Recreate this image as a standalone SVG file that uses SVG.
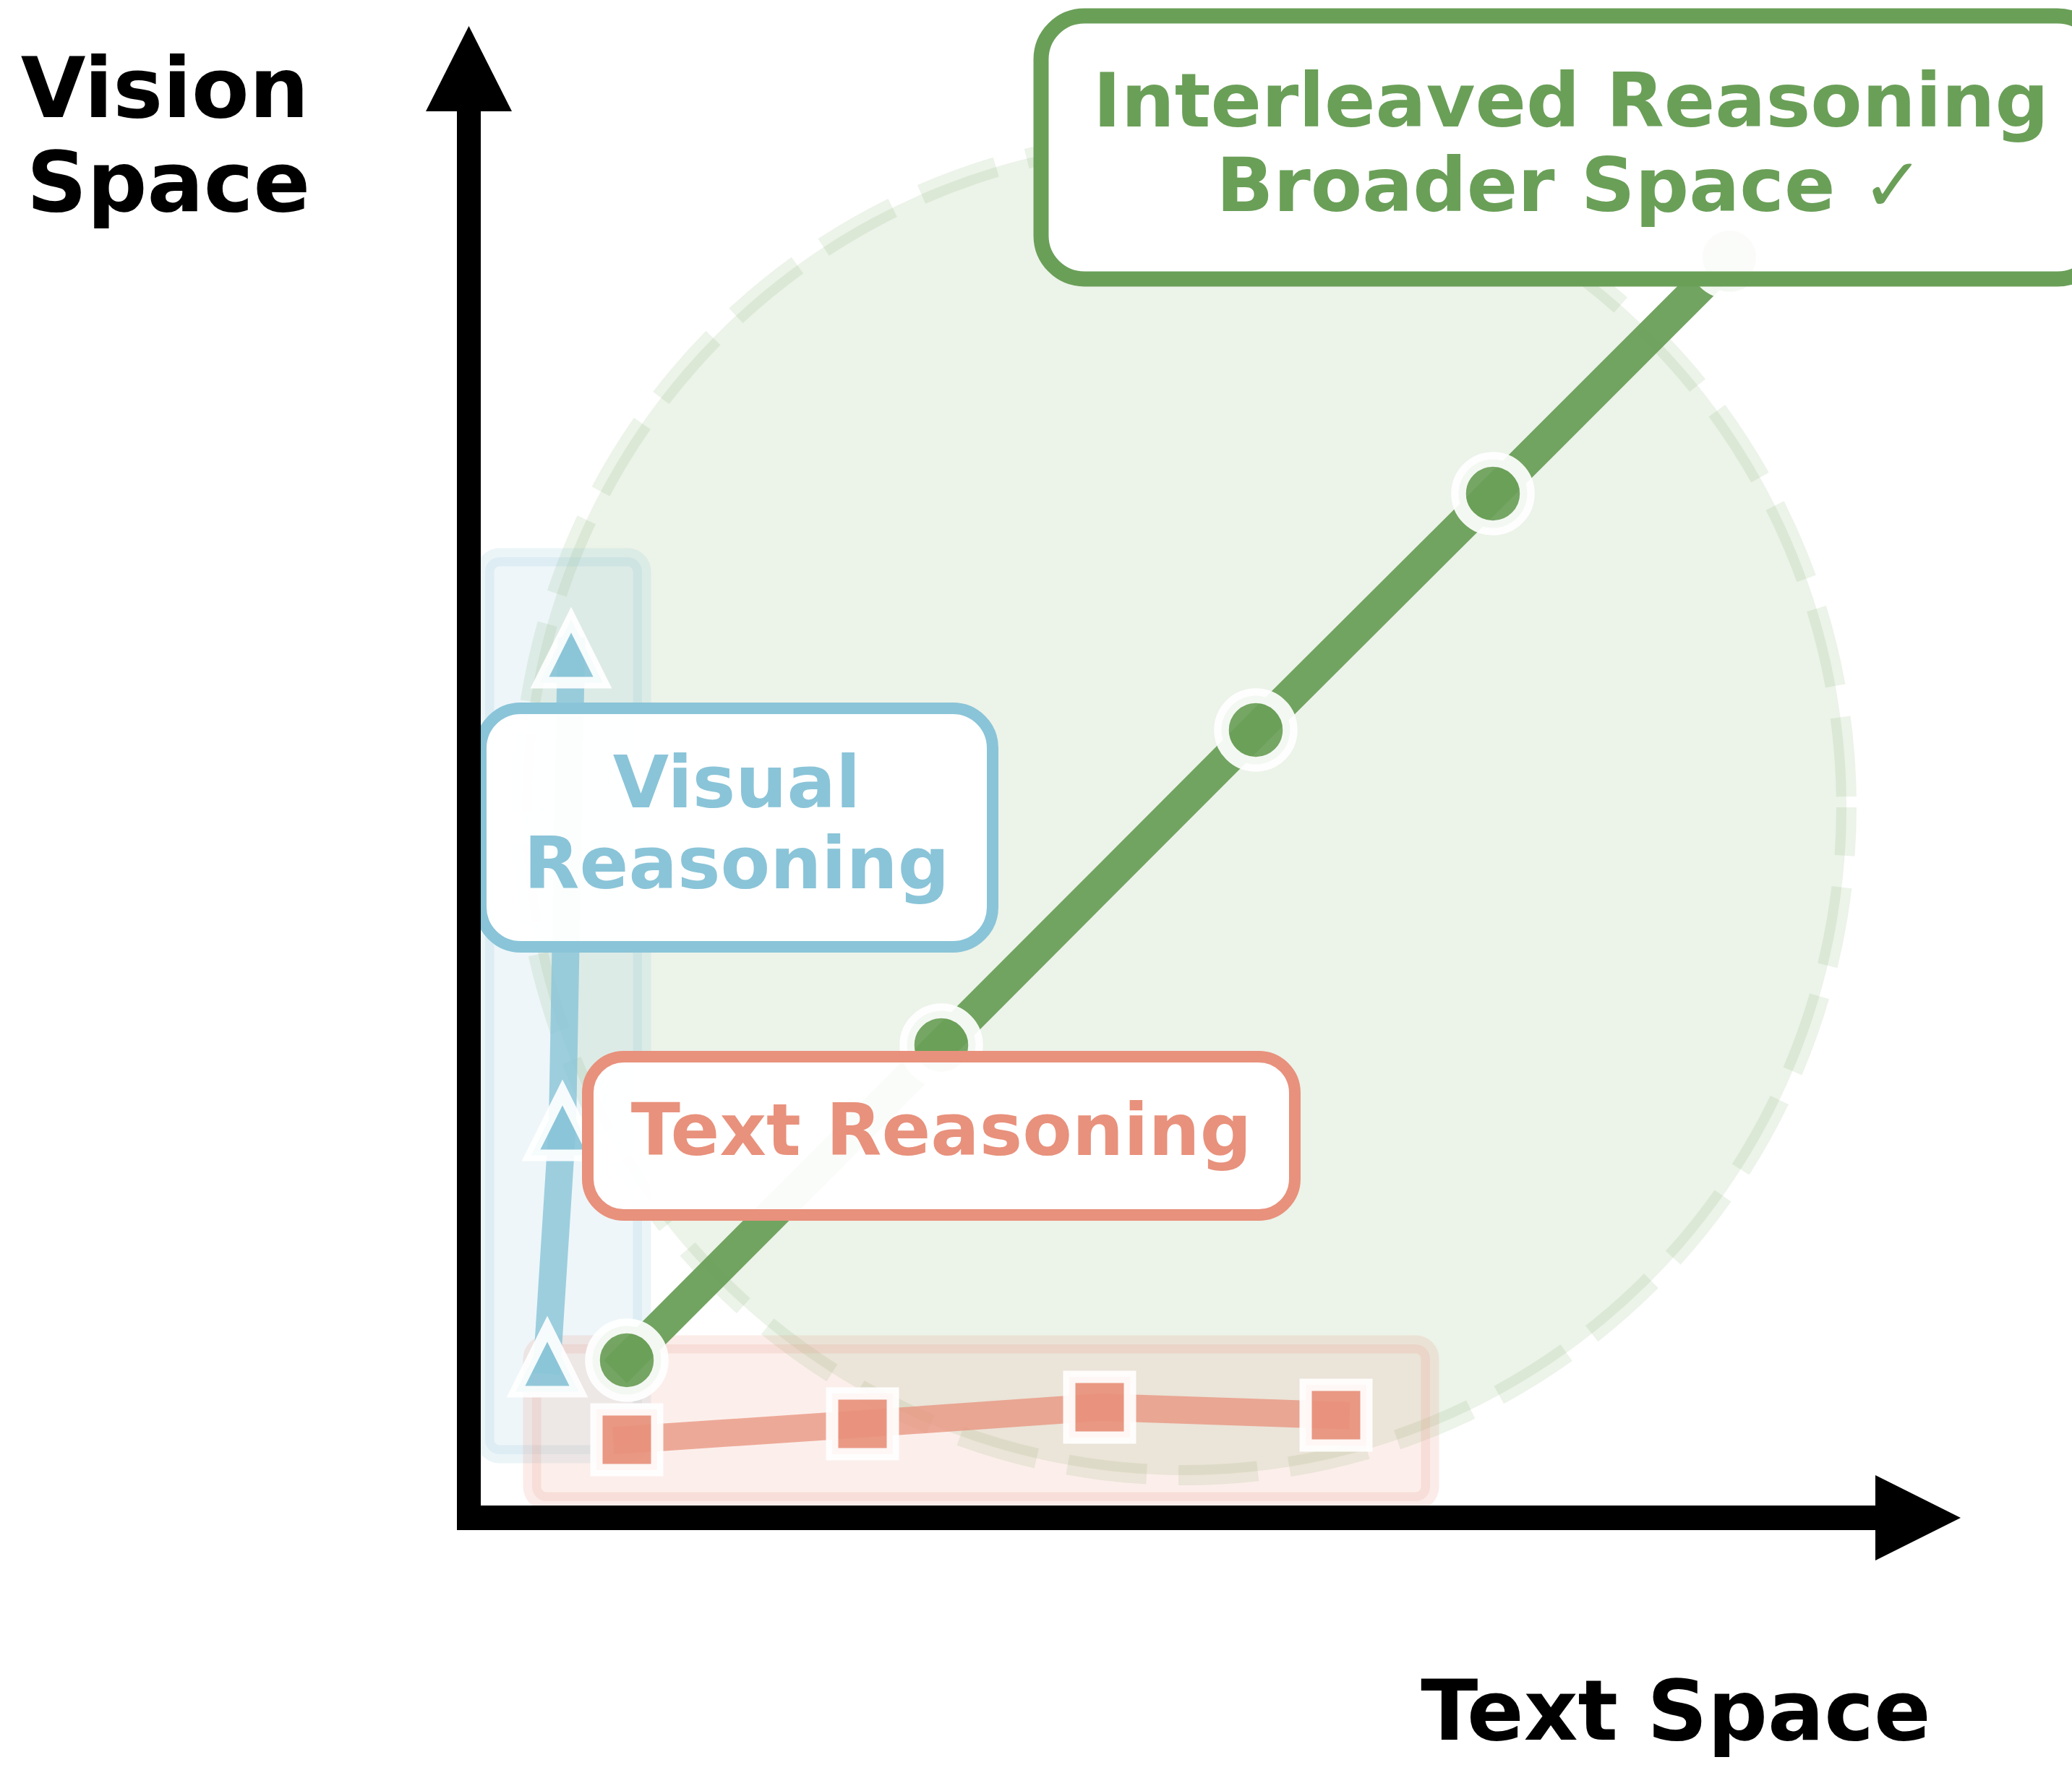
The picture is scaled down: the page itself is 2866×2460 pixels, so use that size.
<svg xmlns="http://www.w3.org/2000/svg" width="2866" height="2460" viewBox="0 0 2866 2460">
<style>
text { font-family: "DejaVu Sans", "Liberation Sans", sans-serif; font-weight: bold; }
.axis-label { font-size: 116px; fill: #000000; }
.t-green { font-size: 104px; fill: #6A9F58; }
.t-blue { font-size: 100px; fill: #8AC4D8; }
.t-red { font-size: 100px; fill: #E8917C; }
.box { fill: #ffffff; fill-opacity: 0.97; }
.mk-green { fill: #6A9F58; stroke: #ffffff; stroke-width: 20.5; fill-opacity: 0.92; stroke-opacity: 0.92; }
.mk-blue { fill: #8AC4D8; stroke: #ffffff; stroke-width: 16; stroke-linejoin: miter; stroke-miterlimit: 10; fill-opacity: 0.92; stroke-opacity: 0.92; }
.mk-red { fill: #E8917C; stroke: #ffffff; stroke-width: 17; stroke-linejoin: miter; fill-opacity: 0.92; stroke-opacity: 0.92; }
.line { fill: none; stroke-linecap: square; stroke-linejoin: round; }
</style>
<defs>
<polygon id="tri" points="0,-43.5 -43.5,43.5 43.5,43.5"/>
<rect id="sq" x="-42" y="-42" width="84" height="84"/>
</defs>
<rect x="0" y="0" width="2866" height="2460" fill="#ffffff"/>

<g id="interleaved-region">
<ellipse cx="1638" cy="1117" rx="916" ry="924" fill="#6A9F58" fill-opacity="0.13" stroke="#6A9F58" stroke-opacity="0.13" stroke-width="28" stroke-dasharray="110 44" stroke-dashoffset="43"/>
</g>

<g id="visual-band">
<rect x="671" y="771" width="217" height="1241" rx="20" fill="#8AC4D8" fill-opacity="0.15" stroke="#8AC4D8" stroke-opacity="0.17" stroke-width="25"/>
</g>

<g id="text-band">
<rect x="736" y="1860" width="1242" height="217" rx="20" fill="#E8917C" fill-opacity="0.15" stroke="#E8917C" stroke-opacity="0.17" stroke-width="25"/>
</g>

<g id="connectors">
<polyline class="line" points="867,1882 1302,1446 1737,1010 2065,683 2392,356" stroke="#6A9F58" stroke-opacity="0.95" stroke-width="45"/>
<polyline class="line" points="757,1882 778,1555 790,901" stroke="#8AC4D8" stroke-opacity="0.82" stroke-width="38"/>
<polyline class="line" points="867,1992 1193,1970 1521,1947 1848,1958" stroke="#E8917C" stroke-opacity="0.75" stroke-width="38"/>
</g>

<g id="markers-green">
<circle class="mk-green" cx="867" cy="1882" r="47.5"/>
<circle class="mk-green" cx="1302" cy="1446" r="47.5"/>
<circle class="mk-green" cx="1737" cy="1010" r="47.5"/>
<circle class="mk-green" cx="2065" cy="683" r="47.5"/>
<circle class="mk-green" cx="2392" cy="356" r="47.5"/>
</g>
<g id="markers-blue">
<use href="#tri" class="mk-blue" x="757" y="1882"/>
<use href="#tri" class="mk-blue" x="778" y="1555"/>
<use href="#tri" class="mk-blue" x="790" y="901"/>
</g>
<g id="markers-red">
<use href="#sq" class="mk-red" x="867" y="1992"/>
<use href="#sq" class="mk-red" x="1193" y="1970"/>
<use href="#sq" class="mk-red" x="1521" y="1947"/>
<use href="#sq" class="mk-red" x="1848" y="1958"/>
</g>

<g id="label-interleaved">
<rect class="box" x="1440" y="22" width="1466" height="364" rx="60" stroke="#6A9F58" stroke-width="21"/>
<text class="t-green" x="2173" y="175" text-anchor="middle">Interleaved Reasoning</text>
<text class="t-green" x="2172" y="292" text-anchor="middle">Broader Space ✓</text>
</g>

<g id="label-visual">
<rect class="box" x="665" y="980" width="708" height="330" rx="55" stroke="#8AC4D8" stroke-width="16"/>
<text class="t-blue" x="1019" y="1117" text-anchor="middle">Visual</text>
<text class="t-blue" x="1019" y="1229" text-anchor="middle">Reasoning</text>
</g>

<g id="label-text">
<rect class="box" x="813" y="1462" width="978" height="219" rx="50" stroke="#E8917C" stroke-width="16"/>
<text class="t-red" x="1302" y="1598" text-anchor="middle">Text Reasoning</text>
</g>

<g id="axes">
<rect x="632" y="150" width="33" height="1967" fill="#000000"/>
<polygon points="648.5,36 589,154 708,154" fill="#000000"/>
<rect x="632" y="2083" width="1966" height="34" fill="#000000"/>
<polygon points="2594,2041 2712,2100 2594,2159" fill="#000000"/>
<text class="axis-label" x="228" y="162" text-anchor="middle">Vision</text>
<text class="axis-label" x="233" y="292" text-anchor="middle">Space</text>
<text class="axis-label" x="2318" y="2407" text-anchor="middle">Text Space</text>
</g>
</svg>
